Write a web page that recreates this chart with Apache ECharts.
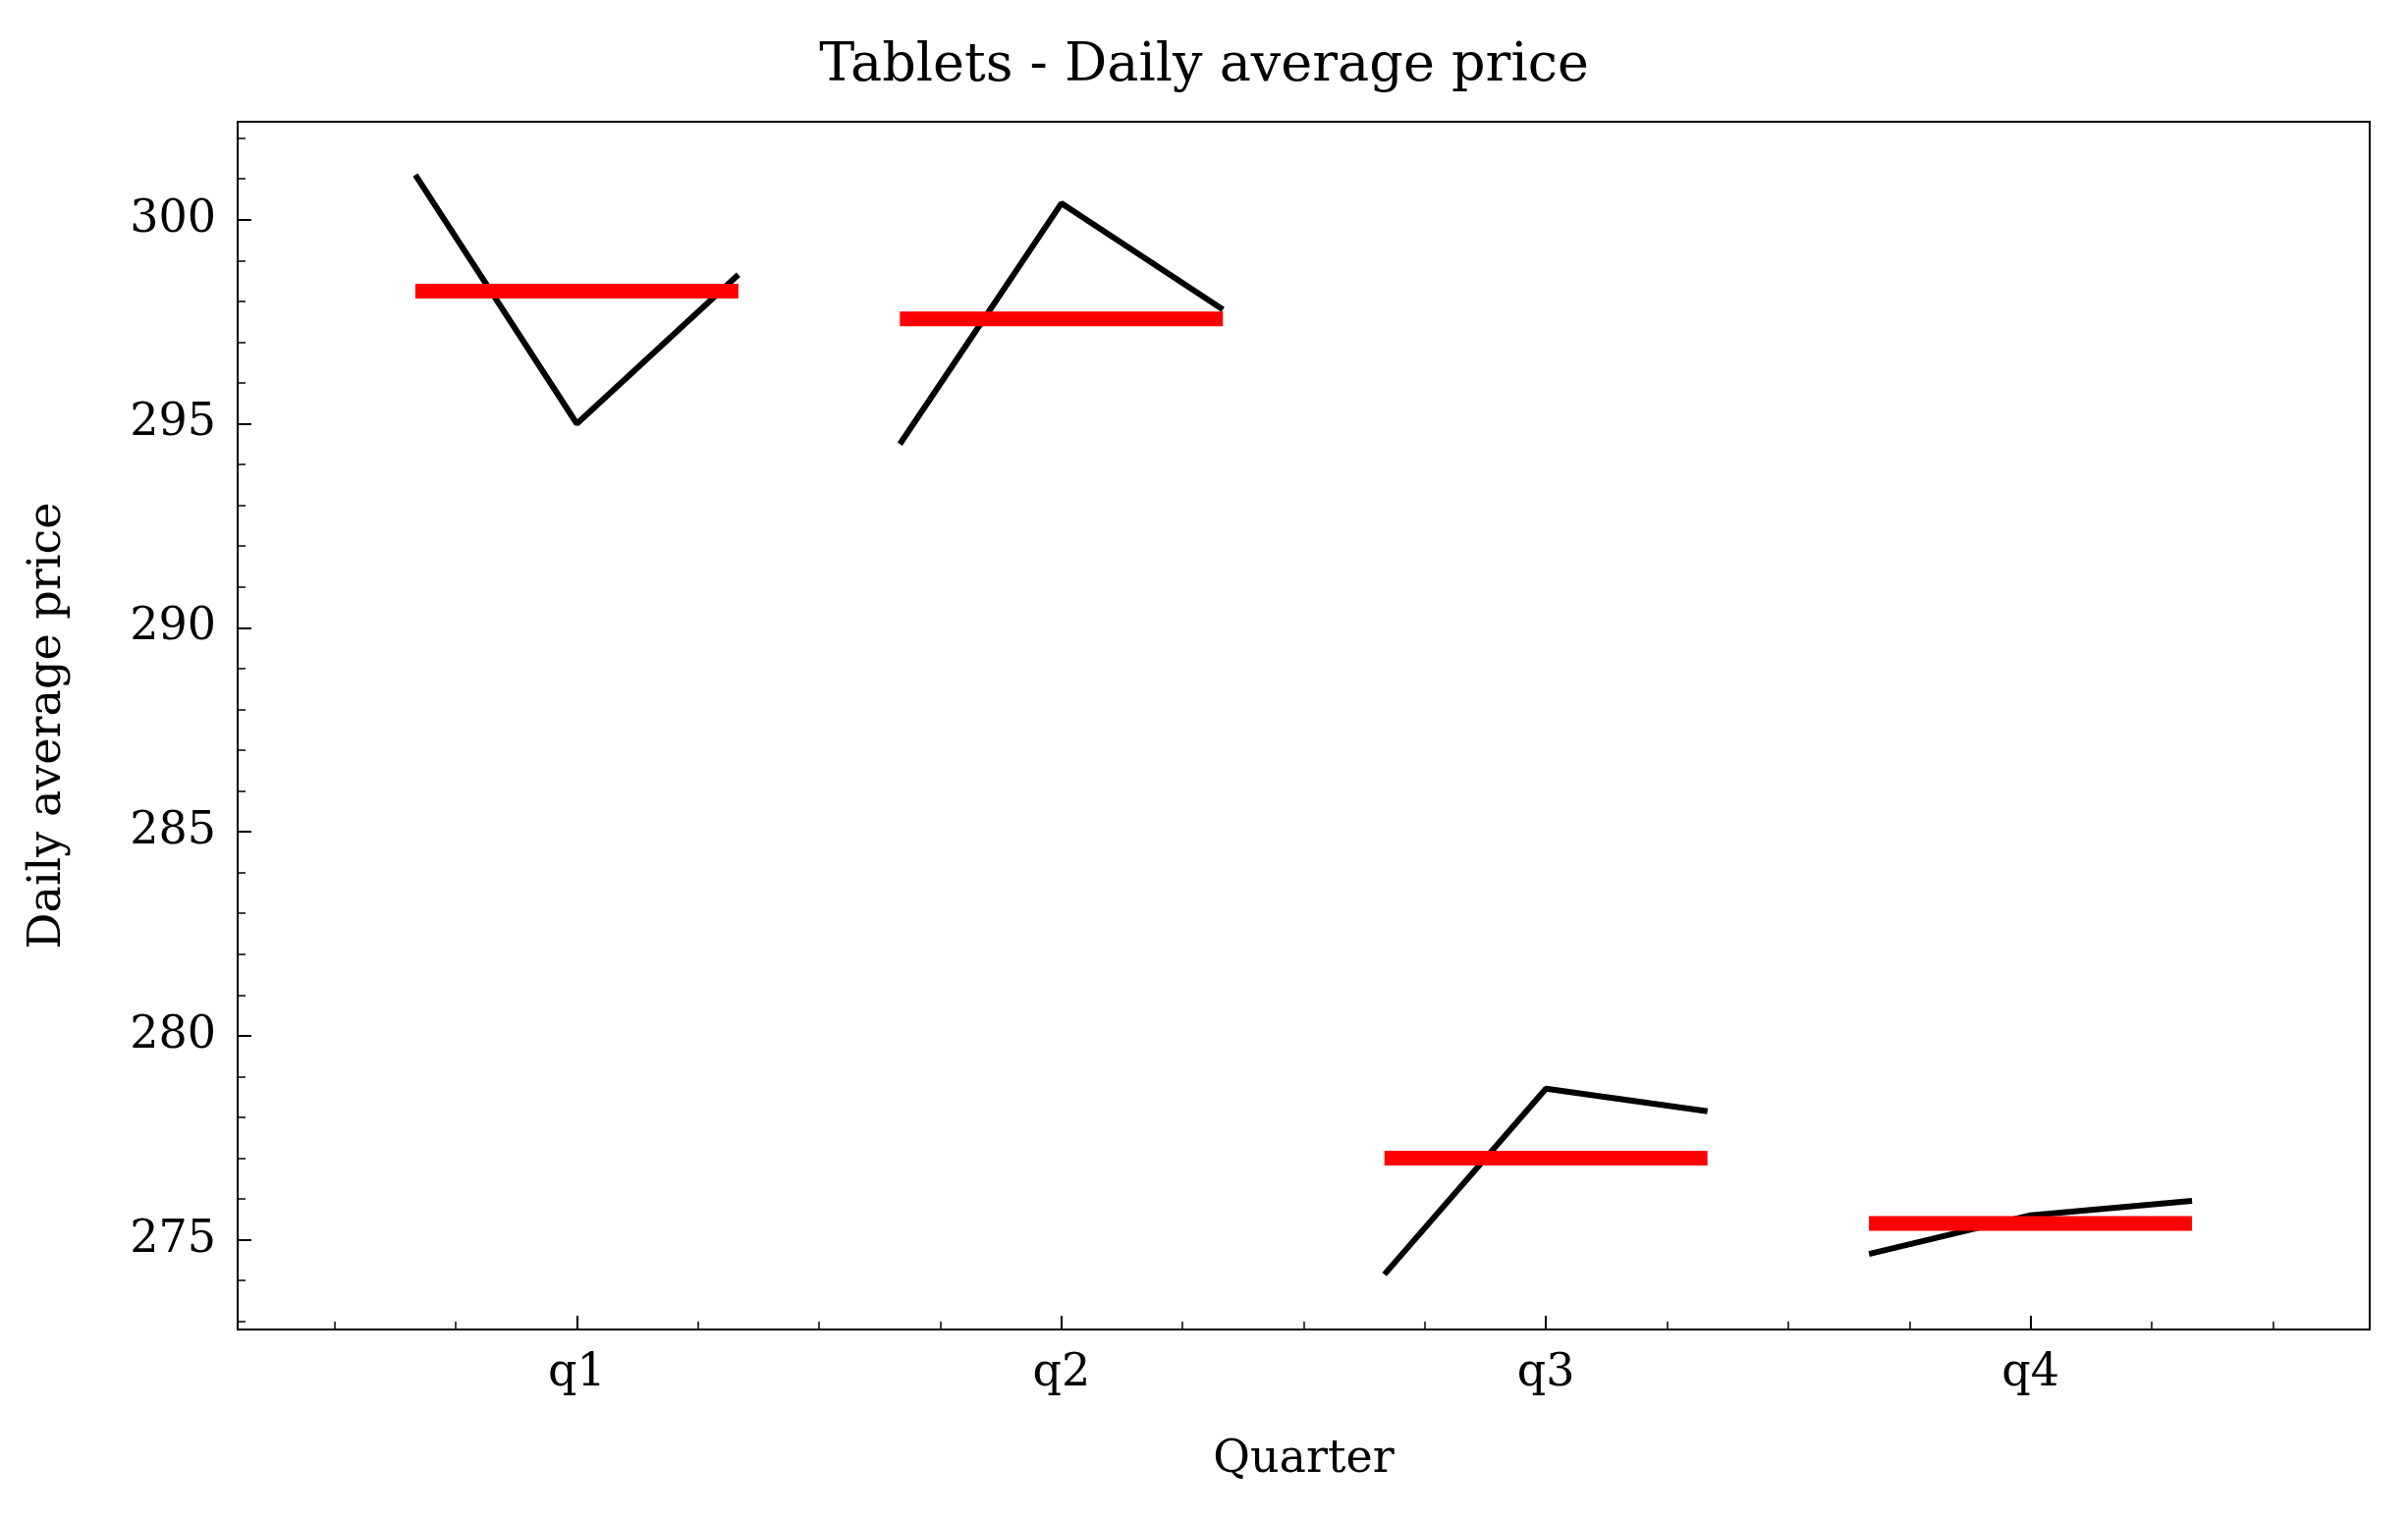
<!DOCTYPE html>
<html><head><meta charset="utf-8">
<script src="https://cdn.jsdelivr.net/npm/echarts@6/dist/echarts.min.js"></script>
<style>html,body{margin:0;padding:0;background:#fff}#main{width:2452px;height:1547px}</style>
</head><body><div id="main"></div>
<script>
var quarters = ['q1', 'q2', 'q3', 'q4'];
var q1 = [301.1, 295.0, 298.65];
var q2 = [294.5, 300.4, 297.8];
var q3 = [274.15, 278.7, 278.15];
var q4 = [274.65, 275.6, 275.95];
var yTicks = [275, 280, 285, 290, 295, 300];
var yMinor = [273,274,276,277,278,279,281,282,283,284,286,287,288,289,291,292,293,294,296,297,298,299,301,302];
var xMinor = [0.5,0.75,1.25,1.5,1.75,2.25,2.5,2.75,3.25,3.5,3.75,4.25,4.5];

var quarterData = [q1, q2, q3, q4];
var font = 'DejaVu Serif';
var series = [];
quarterData.forEach(function (vals, i) {
  var c = i + 1;
  var offs = [-1/3, 0, 1/3];
  series.push({
    type: 'line', symbol: 'none', silent: true,
    lineStyle: {color: '#000', width: 6},
    data: vals.map(function (v, j) { return [c + offs[j], v]; })
  });
  var mean = vals.reduce(function (a, b) { return a + b; }, 0) / vals.length;
  series.push({
    type: 'line', symbol: 'none', silent: true,
    lineStyle: {color: '#ff0000', width: 15, cap: 'butt'},
    data: [[c - 1/3, mean], [c + 1/3, mean]]
  });
});

var chart = echarts.init(document.getElementById('main'));
chart.setOption({
  backgroundColor: '#fff',
  animation: false,
  title: {text: 'Tablets - Daily average price', left: 'center', top: 36,
    textStyle: {fontFamily: font, fontWeight: 'normal', fontSize: 54, color: '#000'}},
  grid: {left: 242, right: 39, top: 124, bottom: 193, show: true, borderColor: '#000', borderWidth: 2},
  xAxis: [{
    type: 'value', min: 0.3, max: 4.7,
    name: 'Quarter', nameLocation: 'middle', nameGap: 110,
    nameTextStyle: {fontFamily: font, fontSize: 46, color: '#000'},
    splitLine: {show: false},
    axisLine: {lineStyle: {color: '#000', width: 2}},
    axisTick: {inside: true, length: 14, customValues: [1, 2, 3, 4], lineStyle: {color: '#000', width: 2}},
    axisLabel: {customValues: [1, 2, 3, 4], formatter: function (v) { return quarters[Math.round(v) - 1]; },
      fontFamily: font, fontSize: 46, color: '#000', margin: 22}
  }, {
    type: 'value', min: 0.3, max: 4.7, position: 'bottom',
    splitLine: {show: false}, axisLine: {show: false}, axisLabel: {show: false},
    axisTick: {inside: true, length: 8, customValues: xMinor, lineStyle: {color: '#000', width: 1.5}}
  }],
  yAxis: [{
    type: 'value', min: 272.8, max: 302.4,
    name: 'Daily average price', nameLocation: 'middle', nameGap: 170,
    nameTextStyle: {fontFamily: font, fontSize: 46, color: '#000'},
    splitLine: {show: false},
    axisLine: {lineStyle: {color: '#000', width: 2}},
    axisTick: {inside: true, length: 14, customValues: yTicks, lineStyle: {color: '#000', width: 2}},
    axisLabel: {customValues: yTicks, fontFamily: font, fontSize: 46, color: '#000', margin: 22}
  }, {
    type: 'value', min: 272.8, max: 302.4, position: 'left',
    splitLine: {show: false}, axisLine: {show: false}, axisLabel: {show: false},
    axisTick: {inside: true, length: 8, customValues: yMinor, lineStyle: {color: '#000', width: 1.5}}
  }],
  series: series
});
</script></body></html>
